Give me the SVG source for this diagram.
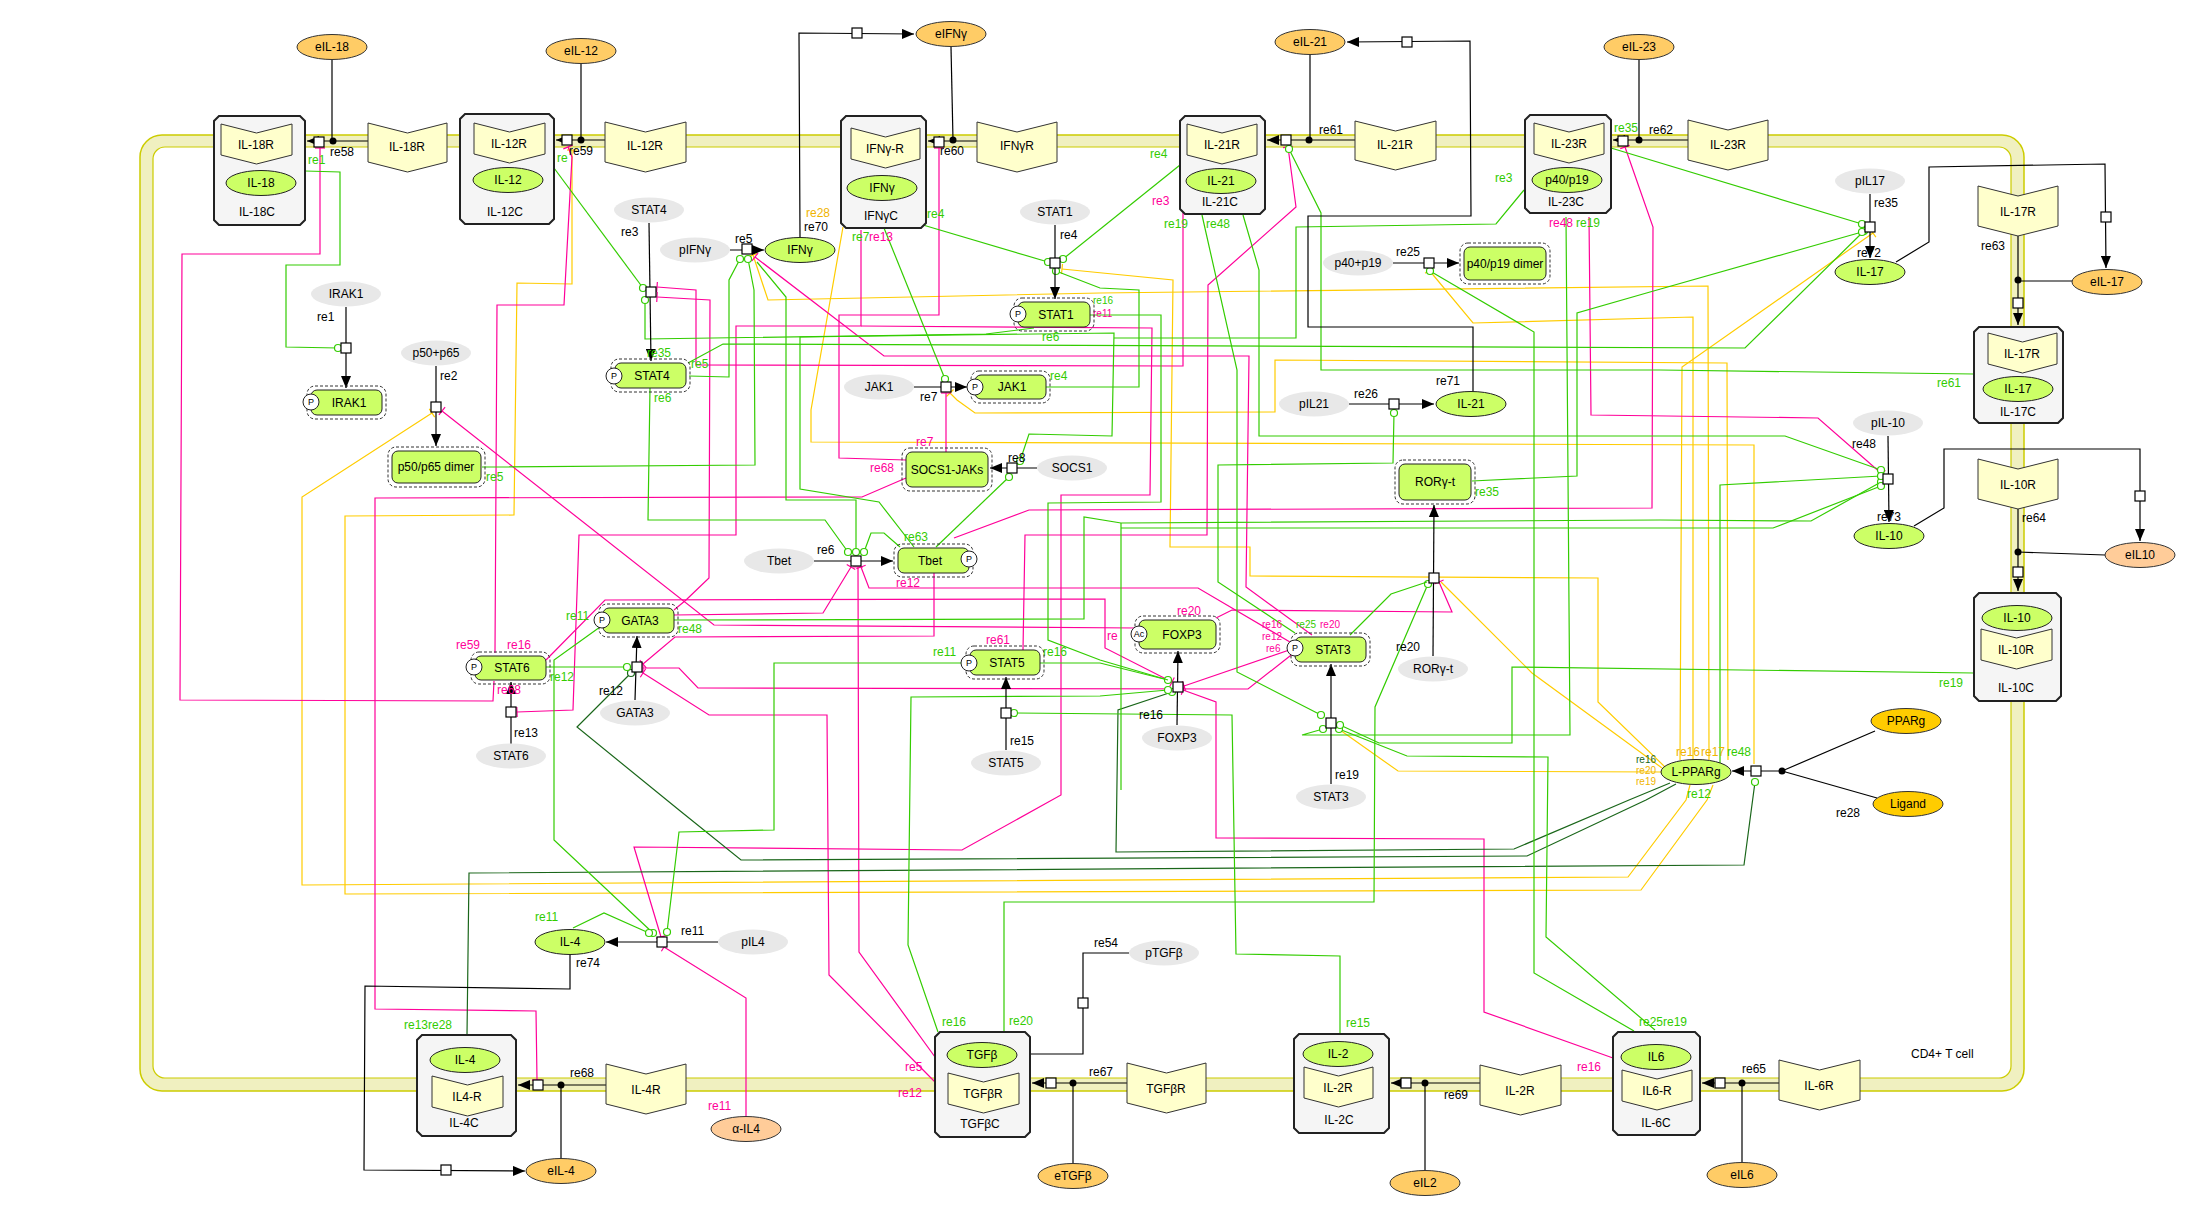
<svg xmlns="http://www.w3.org/2000/svg" width="2210" height="1210" viewBox="0 0 2210 1210">
<defs>
<style>
text{font-family:"Liberation Sans",Arial,sans-serif;font-size:12px;fill:#000}
.c{text-anchor:middle}
.lg{fill:#33cc00}.lp{fill:#ff0099}.ly{fill:#f0b400}.ldg{fill:#1a661a}
.k{stroke:#000;stroke-width:1.2;fill:none}
.g{stroke:#33cc00;stroke-width:1.2;fill:none}
.p{stroke:#ff0099;stroke-width:1.2;fill:none}
.y{stroke:#ffcc00;stroke-width:1.2;fill:none}
.dg{stroke:#1a661a;stroke-width:1.2;fill:none}
.sq{fill:#fff;stroke:#000;stroke-width:1.2}
.ext{fill:#ffcc66;stroke:#333;stroke-width:1}
.pe{fill:#ffcc99;stroke:#333;stroke-width:1}
.gold{fill:#ffcc00;stroke:#333;stroke-width:1}
.gr{fill:#e8e8e8}
.gn{fill:#ccff66;stroke:#222;stroke-width:1}
.rc{fill:#ffffcc;stroke:#333;stroke-width:1}
.cx{fill:#f5f5f5;stroke:#222;stroke-width:2}
.ap{fill:#ccff66;stroke:#222;stroke-width:1}
.dash{fill:none;stroke:#333;stroke-width:1;stroke-dasharray:3,2}
.pc{fill:#fff;stroke:#222;stroke-width:1}
.sm{font-size:9px}
.s10{font-size:10px}
</style>
<marker id="a" viewBox="0 0 12 10" refX="12" refY="5" markerWidth="12" markerHeight="10" markerUnits="userSpaceOnUse" orient="auto"><path d="M0,0 L12,5 L0,10 Z" fill="#000"/></marker>
<marker id="cg" viewBox="-5 -5 10 10" refX="0" refY="0" markerWidth="10" markerHeight="10" markerUnits="userSpaceOnUse"><circle r="3.5" fill="#fff" stroke="#33cc00" stroke-width="1.2"/></marker>
<marker id="cd" viewBox="-5 -5 10 10" refX="0" refY="0" markerWidth="10" markerHeight="10" markerUnits="userSpaceOnUse"><circle r="3.5" fill="#fff" stroke="#1a661a" stroke-width="1.2"/></marker>
<marker id="bp" viewBox="-2 -6 4 12" refX="0" refY="0" markerWidth="4" markerHeight="12" markerUnits="userSpaceOnUse" orient="auto"><line x1="0" y1="-5" x2="0" y2="5" stroke="#ff0099" stroke-width="1.2"/></marker>
<marker id="by" viewBox="-2 -6 4 12" refX="0" refY="0" markerWidth="4" markerHeight="12" markerUnits="userSpaceOnUse" orient="auto"><line x1="0" y1="-5" x2="0" y2="5" stroke="#ffcc00" stroke-width="1.2"/></marker>
</defs>
<rect width="2210" height="1210" fill="#fff"/>
<g id="membrane">
<rect x="140" y="135" width="1884" height="956" rx="22" fill="#f0f0c0" stroke="#cccc00" stroke-width="1.5"/>
<rect x="153" y="147" width="1858" height="931" rx="12" fill="#fff" stroke="#cccc00" stroke-width="1.2"/>
<text x="1911" y="1058">CD4+ T cell</text>
</g>
<g id="connectors">
<!-- yellow -->
<polyline class="y" points="1713,785 1707,800 1641,890 345,894 345,516 514,515 517,283 572,284 572,150" marker-end="url(#by)"/>
<polyline class="y" points="1690,785 1686,800 1628,877 302,885 302,497 432,413" marker-end="url(#by)"/>
<polyline class="y" points="1709,760 1708,286 1100,293 768,300 753,255" marker-end="url(#by)"/>
<polyline class="y" points="1754,764 1754,445 811,442 811,410 843,227"/>
<polyline class="y" points="1665,767 1598,702 1598,578 1250,576 1250,547 1170,547 1173,280 1062,269" marker-end="url(#by)"/>
<polyline class="y" points="1693,760 1693,317 1473,323 1429,270" marker-end="url(#by)"/>
<polyline class="y" points="1728,760 1727,363 1275,360 1275,412 975,413 957,400 950,393" marker-end="url(#by)"/>
<polyline class="y" points="1680,760 1682,367 1873,233" marker-end="url(#by)"/>
<polyline class="y" points="1662,768 1532,673 1441,582"/>
<polyline class="y" points="1662,772 1398,771 1340,730"/>
<!-- pink -->
<polyline class="p" points="494,681 493,701 180,700 182,254 320,254 320,148" marker-end="url(#bp)"/>
<polyline class="p" points="495,653 497,305 564,305 572,157 568,147" marker-end="url(#bp)"/>
<polyline class="p" points="906,478 862,497 375,498 375,1009 536,1011 537,1080" marker-end="url(#bp)"/>
<polyline class="p" points="1136,628 714,625 442,411" marker-end="url(#bp)"/>
<polyline class="p" points="546,660 605,600 1105,599 1105,648 1172,682" marker-end="url(#bp)"/>
<polyline class="p" points="1183,213 1183,366 696,365 696,290 657,287" marker-end="url(#bp)"/>
<polyline class="p" points="674,610 686,600 709,578 710,300 657,297" marker-end="url(#bp)"/>
<polyline class="p" points="1312,635 1246,587 1249,356 884,356 755,257" marker-end="url(#bp)"/>
<polyline class="p" points="861,230 861,326 736,326 736,535 579,535 573,710 517,712" marker-end="url(#bp)"/>
<polyline class="p" points="906,460 839,458 839,315 939,315 939,148" marker-end="url(#bp)"/>
<polyline class="p" points="946,452 946,393" marker-end="url(#bp)"/>
<polyline class="p" points="954,538 1029,510 1652,508 1653,227 1625,147" marker-end="url(#bp)"/>
<polyline class="p" points="934,573 934,636 675,637 643,664" marker-end="url(#bp)"/>
<polyline class="p" points="674,615 823,613 851,567" marker-end="url(#bp)"/>
<polyline class="p" points="1295,645 1198,588 869,588 861,567" marker-end="url(#bp)"/>
<polyline class="p" points="935,1057 859,952 858,567" marker-end="url(#bp)"/>
<polyline class="p" points="1295,652 1248,689 698,688 679,668 643,668" marker-end="url(#bp)"/>
<polyline class="p" points="935,1082 829,975 827,715 709,715 643,673" marker-end="url(#bp)"/>
<polyline class="p" points="861,326 1152,328 1150,495 1061,495 1061,795 962,850 634,847 661,937" marker-end="url(#bp)"/>
<polyline class="p" points="746,1116 746,998 664,947" marker-end="url(#bp)"/>
<polyline class="p" points="1023,650 1025,535 1207,535 1208,285 1296,207 1288,147" marker-end="url(#bp)"/>
<polyline class="p" points="1589,217 1591,415 1818,418 1882,474" marker-end="url(#bp)"/>
<polyline class="p" points="1613,1058 1484,1012 1484,839 1216,838 1216,702 1183,690" marker-end="url(#bp)"/>
<polyline class="p" points="1216,618 1232,610 1452,612 1439,582" marker-end="url(#bp)"/>
<polyline class="p" points="1295,648 1184,686" marker-end="url(#bp)"/>
<!-- dark green -->
<polyline class="dg" points="1676,784 1646,800 1527,856 741,860 679,810 577,727 631,673" marker-end="url(#cd)"/>
<polyline class="dg" points="467,1035 469,873 1744,865 1755,782" marker-end="url(#cg)"/>
<polyline class="dg" points="1670,783 1629,800 1514,849 1116,852 1118,710 1172,692" marker-end="url(#cg)"/>
<!-- green -->
<polyline class="g" points="305,171 340,172 340,265 286,265 286,347 338,348" marker-end="url(#cg)"/>
<polyline class="g" points="554,168 643,288" marker-end="url(#cg)"/>
<polyline class="g" points="1034,328 986,334 645,339 645,300" marker-end="url(#cg)"/>
<polyline class="g" points="689,376 729,377 729,280 740,259" marker-end="url(#cg)"/>
<polyline class="g" points="688,363 723,344 1745,348 1864,231" marker-end="url(#cg)"/>
<polyline class="g" points="482,467 755,465 754,290 748,259" marker-end="url(#cg)"/>
<polyline class="g" points="757,262 786,297 786,500 856,500 856,552" marker-end="url(#cg)"/>
<polyline class="g" points="914,547 879,502 800,489 800,337 1114,333 1112,436 1029,434 1020,461" marker-end="url(#cg)"/>
<polyline class="g" points="923,225 1048,262" marker-end="url(#cg)"/>
<polyline class="g" points="1180,165 1063,259" marker-end="url(#cg)"/>
<polyline class="g" points="1046,387 1139,387 1139,290 1100,288 1056,271" marker-end="url(#cg)"/>
<polyline class="g" points="884,228 945,379" marker-end="url(#cg)"/>
<polyline class="g" points="936,547 1009,477" marker-end="url(#cg)"/>
<polyline class="g" points="900,547 884,533 871,533 864,552" marker-end="url(#cg)"/>
<polyline class="g" points="650,388 648,520 825,520 848,552" marker-end="url(#cg)"/>
<polyline class="g" points="674,620 1084,619 1084,517 1121,523 1660,520 1811,521 1881,482" marker-end="url(#cg)"/>
<polyline class="g" points="1121,523 1121,790"/>
<polyline class="g" points="546,667 627,667" marker-end="url(#cg)"/>
<polyline class="g" points="600,627 554,660 554,840 653,933" marker-end="url(#cg)"/>
<polyline class="g" points="970,663 774,663 774,830 679,832 667,932" marker-end="url(#cg)"/>
<polyline class="g" points="573,928 604,913 649,933" marker-end="url(#cg)"/>
<polyline class="g" points="1040,663 1100,663 1168,680" marker-end="url(#cg)"/>
<polyline class="g" points="1340,1033 1340,956 1236,954 1232,715 1014,713" marker-end="url(#cg)"/>
<polyline class="g" points="938,1032 908,945 911,697 1100,696 1168,690" marker-end="url(#cg)"/>
<polyline class="g" points="1004,1032 1004,902 1374,902 1375,707 1428,584" marker-end="url(#cg)"/>
<polyline class="g" points="1350,635 1391,594 1427,582"/>
<polyline class="g" points="1295,633 1218,582 1218,465 1393,463 1394,413" marker-end="url(#cg)"/>
<polyline class="g" points="1202,215 1237,370 1237,672 1321,715" marker-end="url(#cg)"/>
<polyline class="g" points="1243,215 1259,270 1259,436 1785,436 1881,470" marker-end="url(#cg)"/>
<polyline class="g" points="1974,374 1660,370 1321,370 1321,213 1289,149" marker-end="url(#cg)"/>
<polyline class="g" points="1524,190 1496,224 1296,227 1296,338 1114,338"/>
<polyline class="g" points="1090,315 1161,315 1161,502 1048,503 1048,640 1100,660 1168,680"/>
<polyline class="g" points="1634,1031 1534,973 1534,332 1430,271" marker-end="url(#cg)"/>
<polyline class="g" points="1566,217 1570,735 1302,735 1323,729" marker-end="url(#cg)"/>
<polyline class="g" points="1655,1030 1546,937 1548,757 1407,756 1339,729" marker-end="url(#cg)"/>
<polyline class="g" points="1974,673 1512,667 1512,743 1379,743 1340,725" marker-end="url(#cg)"/>
<polyline class="g" points="1472,481 1577,476 1577,313 1650,292 1862,232" marker-end="url(#cg)"/>
<polyline class="g" points="1611,148 1862,224" marker-end="url(#cg)"/>
<polyline class="g" points="1720,765 1720,485 1881,476" marker-end="url(#cg)"/>
<polyline class="g" points="1121,528 1773,528 1881,486" marker-end="url(#cg)"/>
<!-- black reactions -->
<path class="k" d="M332,60 V141"/>
<path class="k" d="M368,141 H307" marker-end="url(#a)"/>
<path class="k" d="M581,64 V140"/>
<path class="k" d="M605,140 H556" marker-end="url(#a)"/>
<path class="k" d="M951,47 L953,140"/>
<path class="k" d="M977,141 H928" marker-end="url(#a)"/>
<path class="k" d="M1310,55 V140"/>
<path class="k" d="M1355,140 H1267" marker-end="url(#a)"/>
<path class="k" d="M1639,60 V140"/>
<path class="k" d="M1688,140 H1613" marker-end="url(#a)"/>
<path class="k" d="M2018,236 V325" marker-end="url(#a)"/>
<path class="k" d="M2072,281 H2018"/>
<path class="k" d="M2018,509 V591" marker-end="url(#a)"/>
<path class="k" d="M2105,555 L2018,552"/>
<path class="k" d="M1779,1083 H1702" marker-end="url(#a)"/>
<path class="k" d="M1742,1162 V1083"/>
<path class="k" d="M1480,1083 H1391" marker-end="url(#a)"/>
<path class="k" d="M1425,1170 V1083"/>
<path class="k" d="M1127,1083 H1032" marker-end="url(#a)"/>
<path class="k" d="M1073,1163 V1083"/>
<path class="k" d="M606,1085 H518" marker-end="url(#a)"/>
<path class="k" d="M561,1158 V1085"/>
<path class="k" d="M800,237 L799,33 L914,34" marker-end="url(#a)"/>
<path class="k" d="M1473,392 V327 H1308 V216 H1471 L1470,41 L1347,42" marker-end="url(#a)"/>
<path class="k" d="M1896,262 L1929,242 V167 L2105,164 L2106,268" marker-end="url(#a)"/>
<path class="k" d="M1914,526 L1944,508 V449 H2140 V541" marker-end="url(#a)"/>
<path class="k" d="M570,954 V989 L365,986 L364,1170 L525,1171" marker-end="url(#a)"/>
<path class="k" d="M1129,953 H1083 V1054 H1019" marker-end="url(#a)"/>
<path class="k" d="M346,307 V388" marker-end="url(#a)"/>
<path class="k" d="M436,366 V446" marker-end="url(#a)"/>
<path class="k" d="M649,223 L651,361" marker-end="url(#a)"/>
<path class="k" d="M1055,225 V299" marker-end="url(#a)"/>
<path class="k" d="M730,250 H764" marker-end="url(#a)"/>
<path class="k" d="M914,387 H967" marker-end="url(#a)"/>
<path class="k" d="M1037,468 H990" marker-end="url(#a)"/>
<path class="k" d="M814,561 H893" marker-end="url(#a)"/>
<path class="k" d="M635,700 L637,636" marker-end="url(#a)"/>
<path class="k" d="M511,744 V682" marker-end="url(#a)"/>
<path class="k" d="M1006,750 V677" marker-end="url(#a)"/>
<path class="k" d="M1177,725 L1178,651" marker-end="url(#a)"/>
<path class="k" d="M1331,784 V664" marker-end="url(#a)"/>
<path class="k" d="M1433,656 L1434,505" marker-end="url(#a)"/>
<path class="k" d="M1393,263 H1459" marker-end="url(#a)"/>
<path class="k" d="M1349,404 H1434" marker-end="url(#a)"/>
<path class="k" d="M1870,194 V258" marker-end="url(#a)"/>
<path class="k" d="M1888,436 L1889,522" marker-end="url(#a)"/>
<path class="k" d="M718,942 H606" marker-end="url(#a)"/>
<path class="k" d="M1875,731 L1782,771 M1877,798 L1782,771"/>
<path class="k" d="M1782,771 H1732" marker-end="url(#a)"/>
<!-- process nodes -->
<g class="sq">
<rect x="314" y="137" width="10" height="10"/><rect x="562" y="135" width="10" height="10"/>
<rect x="934" y="137" width="10" height="10"/><rect x="1281" y="135" width="10" height="10"/>
<rect x="1618" y="136" width="10" height="10"/><rect x="2013" y="298" width="10" height="10"/>
<rect x="2013" y="567" width="10" height="10"/><rect x="1715" y="1078" width="10" height="10"/>
<rect x="1401" y="1078" width="10" height="10"/><rect x="1046" y="1078" width="10" height="10"/>
<rect x="533" y="1080" width="10" height="10"/><rect x="852" y="28" width="10" height="10"/>
<rect x="1402" y="37" width="10" height="10"/><rect x="2101" y="212" width="10" height="10"/>
<rect x="2135" y="491" width="10" height="10"/><rect x="441" y="1165" width="10" height="10"/>
<rect x="1078" y="998" width="10" height="10"/><rect x="341" y="343" width="10" height="10"/>
<rect x="431" y="402" width="10" height="10"/><rect x="646" y="287" width="10" height="10"/>
<rect x="1050" y="258" width="10" height="10"/><rect x="742" y="244" width="10" height="10"/>
<rect x="941" y="382" width="10" height="10"/><rect x="1007" y="463" width="10" height="10"/>
<rect x="851" y="556" width="10" height="10"/><rect x="632" y="662" width="10" height="10"/>
<rect x="506" y="707" width="10" height="10"/><rect x="1001" y="708" width="10" height="10"/>
<rect x="1173" y="682" width="10" height="10"/><rect x="1326" y="718" width="10" height="10"/>
<rect x="1429" y="573" width="10" height="10"/><rect x="1424" y="258" width="10" height="10"/>
<rect x="1389" y="399" width="10" height="10"/><rect x="1865" y="222" width="10" height="10"/>
<rect x="1883" y="474" width="10" height="10"/><rect x="657" y="937" width="10" height="10"/>
<rect x="1751" y="766" width="10" height="10"/>
</g>
<g fill="#000">
<circle cx="333" cy="141" r="3.5"/><circle cx="581" cy="140" r="3.5"/><circle cx="953" cy="140" r="3.5"/>
<circle cx="1309" cy="140" r="3.5"/><circle cx="1639" cy="140" r="3.5"/><circle cx="2018" cy="280" r="3.5"/>
<circle cx="2018" cy="552" r="3.5"/><circle cx="1742" cy="1083" r="3.5"/><circle cx="1425" cy="1083" r="3.5"/>
<circle cx="1073" cy="1083" r="3.5"/><circle cx="561" cy="1085" r="3.5"/><circle cx="1782" cy="771" r="3.5"/>
</g>
<!-- reaction labels -->
<text x="330" y="156">re58</text><text x="569" y="155">re59</text><text x="940" y="155">re60</text>
<text x="1319" y="134">re61</text><text x="1649" y="134">re62</text><text x="1981" y="250">re63</text>
<text x="2022" y="522">re64</text><text x="1742" y="1073">re65</text><text x="1444" y="1099">re69</text>
<text x="1089" y="1076">re67</text><text x="570" y="1077">re68</text><text x="804" y="231">re70</text>
<text x="1436" y="385">re71</text><text x="1857" y="257">re72</text><text x="1877" y="521">re73</text>
<text x="576" y="967">re74</text><text x="1094" y="947">re54</text><text x="317" y="321">re1</text>
<text x="440" y="380">re2</text><text x="621" y="236">re3</text><text x="1060" y="239">re4</text>
<text x="735" y="243">re5</text><text x="817" y="554">re6</text><text x="920" y="401">re7</text>
<text x="1008" y="462">re8</text><text x="599" y="695">re12</text><text x="514" y="737">re13</text>
<text x="1010" y="745">re15</text><text x="1139" y="719">re16</text><text x="1335" y="779">re19</text>
<text x="1396" y="651">re20</text><text x="1396" y="256">re25</text><text x="1354" y="398">re26</text>
<text x="1874" y="207">re35</text><text x="1852" y="448">re48</text><text x="681" y="935">re11</text>
<text x="1836" y="817">re28</text>
<text class="ly" x="806" y="217">re28</text>
<text class="lg" x="308" y="164">re1</text><text class="lg" x="557" y="162">re</text>
<text class="lg" x="1150" y="158">re4</text><text class="lp" x="1152" y="205">re3</text>
<text class="lg" x="1164" y="228">re19</text><text class="lg" x="1206" y="228">re48</text>
<text class="lg" x="1495" y="182">re3</text><text class="lg" x="1614" y="132">re35</text>
<text class="lp" x="1549" y="227">re48</text><text class="lg" x="1576" y="227">re19</text>
<text class="lg" x="647" y="357">re35</text><text class="lg" x="691" y="368">re5</text>
<text class="lg" x="654" y="402">re6</text><text class="lg" x="1042" y="341">re6</text>
<text class="lg" x="1050" y="380">re4</text><text class="lg s10" x="1093" y="304">re16</text>
<text class="lp s10" x="1093" y="317">re11</text>
<text class="lg" x="1937" y="387">re61</text><text class="lg" x="1475" y="496">re35</text>
<text class="lg" x="1939" y="687">re19</text><text class="lg" x="486" y="481">re5</text>
<text class="lg" x="678" y="633">re48</text><text class="lg" x="566" y="620">re11</text>
<text class="lg" x="550" y="681">re12</text><text class="lg" x="933" y="656">re11</text>
<text class="lp" x="986" y="644">re61</text><text class="lg" x="1043" y="656">re16</text>
<text class="lp" x="896" y="587">re12</text><text class="lg" x="904" y="541">re63</text>
<text class="lp" x="870" y="472">re68</text><text class="lp" x="916" y="446">re7</text>
<text class="lp" x="456" y="649">re59</text><text class="lp" x="507" y="649">re16</text>
<text class="lp" x="497" y="694">re68</text><text class="lp" x="1177" y="615">re20</text>
<text class="lp" x="1107" y="640">re</text>
<text class="lp s10" x="1262" y="628">re16</text><text class="lp s10" x="1262" y="640">re12</text><text class="lp s10" x="1266" y="652">re6</text>
<text class="lg s10" x="1296" y="628">re25</text><text class="lp s10" x="1320" y="628">re20</text>
<text class="lg" x="852" y="241">re7</text><text class="lp" x="869" y="241">re13</text>
<text class="lg" x="927" y="218">re4</text>
<text class="lg" x="404" y="1029">re13re28</text><text class="lg" x="535" y="921">re11</text>
<text class="lp" x="708" y="1110">re11</text><text class="lg" x="942" y="1026">re16</text>
<text class="lg" x="1009" y="1025">re20</text><text class="lp" x="905" y="1071">re5</text>
<text class="lp" x="898" y="1097">re12</text><text class="lg" x="1346" y="1027">re15</text>
<text class="lp" x="1577" y="1071">re16</text><text class="lg" x="1639" y="1026">re25re19</text>
<text class="ly" x="1676" y="756">re16</text><text class="ly" x="1701" y="756">re17</text>
<text class="lg" x="1727" y="756">re48</text>
<text class="ldg s10" x="1636" y="763">re16</text><text class="ly s10" x="1636" y="774">re20</text><text class="ly s10" x="1636" y="785">re19</text>
<text class="lg" x="1687" y="798">re12</text>
</g>
<g id="nodes">
<!-- external orange -->
<g id="eIL-18"><ellipse class="ext" cx="332" cy="47" rx="35" ry="12.5"/><text class="c" x="332" y="51">eIL-18</text></g>
<g id="eIL-12"><ellipse class="ext" cx="581" cy="51" rx="35" ry="12.5"/><text class="c" x="581" y="55">eIL-12</text></g>
<g id="eIFNg"><ellipse class="ext" cx="951" cy="34" rx="35" ry="12.5"/><text class="c" x="951" y="38">eIFNγ</text></g>
<g id="eIL-21"><ellipse class="ext" cx="1310" cy="42" rx="35" ry="12.5"/><text class="c" x="1310" y="46">eIL-21</text></g>
<g id="eIL-23"><ellipse class="ext" cx="1639" cy="47" rx="35" ry="12.5"/><text class="c" x="1639" y="51">eIL-23</text></g>
<g id="eIL-17"><ellipse class="ext" cx="2107" cy="282" rx="35" ry="12.5"/><text class="c" x="2107" y="286">eIL-17</text></g>
<g id="eIL10"><ellipse class="pe" cx="2140" cy="555" rx="35" ry="12.5"/><text class="c" x="2140" y="559">eIL10</text></g>
<g id="PPARg"><ellipse class="gold" cx="1906" cy="721" rx="35" ry="12.5"/><text class="c" x="1906" y="725">PPARg</text></g>
<g id="Ligand"><ellipse class="gold" cx="1908" cy="804" rx="35" ry="12.5"/><text class="c" x="1908" y="808">Ligand</text></g>
<g id="eIL-4"><ellipse class="ext" cx="561" cy="1171" rx="35" ry="12.5"/><text class="c" x="561" y="1175">eIL-4</text></g>
<g id="aIL4"><ellipse class="pe" cx="746" cy="1129" rx="35" ry="12.5"/><text class="c" x="746" y="1133">α-IL4</text></g>
<g id="eTGFb"><ellipse class="ext" cx="1073" cy="1176" rx="35" ry="12.5"/><text class="c" x="1073" y="1180">eTGFβ</text></g>
<g id="eIL2"><ellipse class="ext" cx="1425" cy="1183" rx="35" ry="12.5"/><text class="c" x="1425" y="1187">eIL2</text></g>
<g id="eIL6"><ellipse class="ext" cx="1742" cy="1175" rx="35" ry="12.5"/><text class="c" x="1742" y="1179">eIL6</text></g>
<!-- grey genes -->
<g id="gIRAK1"><ellipse class="gr" cx="346" cy="294" rx="35" ry="12.5"/><text class="c" x="346" y="298">IRAK1</text></g>
<g id="gp50p65"><ellipse class="gr" cx="436" cy="353" rx="35" ry="12.5"/><text class="c" x="436" y="357">p50+p65</text></g>
<g id="gSTAT4"><ellipse class="gr" cx="649" cy="210" rx="35" ry="12.5"/><text class="c" x="649" y="214">STAT4</text></g>
<g id="pIFNg"><ellipse class="gr" cx="695" cy="250" rx="35" ry="12.5"/><text class="c" x="695" y="254">pIFNγ</text></g>
<g id="gSTAT1"><ellipse class="gr" cx="1055" cy="212" rx="35" ry="12.5"/><text class="c" x="1055" y="216">STAT1</text></g>
<g id="gJAK1"><ellipse class="gr" cx="879" cy="387" rx="35" ry="12.5"/><text class="c" x="879" y="391">JAK1</text></g>
<g id="gSOCS1"><ellipse class="gr" cx="1072" cy="468" rx="35" ry="12.5"/><text class="c" x="1072" y="472">SOCS1</text></g>
<g id="gTbet"><ellipse class="gr" cx="779" cy="561" rx="35" ry="12.5"/><text class="c" x="779" y="565">Tbet</text></g>
<g id="gGATA3"><ellipse class="gr" cx="635" cy="713" rx="35" ry="12.5"/><text class="c" x="635" y="717">GATA3</text></g>
<g id="gSTAT6"><ellipse class="gr" cx="511" cy="756" rx="35" ry="12.5"/><text class="c" x="511" y="760">STAT6</text></g>
<g id="gSTAT5"><ellipse class="gr" cx="1006" cy="763" rx="35" ry="12.5"/><text class="c" x="1006" y="767">STAT5</text></g>
<g id="gFOXP3"><ellipse class="gr" cx="1177" cy="738" rx="35" ry="12.5"/><text class="c" x="1177" y="742">FOXP3</text></g>
<g id="gSTAT3"><ellipse class="gr" cx="1331" cy="797" rx="35" ry="12.5"/><text class="c" x="1331" y="801">STAT3</text></g>
<g id="gRORgt"><ellipse class="gr" cx="1433" cy="669" rx="35" ry="12.5"/><text class="c" x="1433" y="673">RORγ-t</text></g>
<g id="gp40p19"><ellipse class="gr" cx="1358" cy="263" rx="35" ry="12.5"/><text class="c" x="1358" y="267">p40+p19</text></g>
<g id="pIL21"><ellipse class="gr" cx="1314" cy="404" rx="35" ry="12.5"/><text class="c" x="1314" y="408">pIL21</text></g>
<g id="pIL17"><ellipse class="gr" cx="1870" cy="181" rx="35" ry="12.5"/><text class="c" x="1870" y="185">pIL17</text></g>
<g id="pIL-10"><ellipse class="gr" cx="1888" cy="423" rx="35" ry="12.5"/><text class="c" x="1888" y="427">pIL-10</text></g>
<g id="pIL4"><ellipse class="gr" cx="753" cy="942" rx="35" ry="12.5"/><text class="c" x="753" y="946">pIL4</text></g>
<g id="pTGFb"><ellipse class="gr" cx="1164" cy="953" rx="35" ry="12.5"/><text class="c" x="1164" y="957">pTGFβ</text></g>
<!-- cytoplasmic green ellipses -->
<g id="IFNg"><ellipse class="gn" cx="800" cy="250" rx="35" ry="12.5"/><text class="c" x="800" y="254">IFNγ</text></g>
<g id="IL-21"><ellipse class="gn" cx="1471" cy="404" rx="35" ry="12.5"/><text class="c" x="1471" y="408">IL-21</text></g>
<g id="IL-17"><ellipse class="gn" cx="1870" cy="272" rx="35" ry="12.5"/><text class="c" x="1870" y="276">IL-17</text></g>
<g id="IL-10"><ellipse class="gn" cx="1889" cy="536" rx="35" ry="12.5"/><text class="c" x="1889" y="540">IL-10</text></g>
<g id="L-PPARg"><ellipse class="gn" cx="1696" cy="772" rx="35" ry="12.5"/><text class="c" x="1696" y="776">L-PPARg</text></g>
<g id="IL-4"><ellipse class="gn" cx="570" cy="942" rx="35" ry="12.5"/><text class="c" x="570" y="946">IL-4</text></g>
<!-- membrane receptors -->
<g id="IL-18R"><polygon class="rc" points="368,123 407.5,133 447,123 447,162 407.5,172 368,162"/><text class="c" x="407" y="151">IL-18R</text></g>
<g id="IL-12R"><polygon class="rc" points="605,122 645.5,132 686,122 686,162 645.5,172 605,162"/><text class="c" x="645" y="150">IL-12R</text></g>
<g id="IFNgR"><polygon class="rc" points="977,122 1017,132 1057,122 1057,162 1017,172 977,162"/><text class="c" x="1017" y="150">IFNγR</text></g>
<g id="IL-21R"><polygon class="rc" points="1355,121 1395.5,131 1436,121 1436,160 1395.5,170 1355,160"/><text class="c" x="1395" y="149">IL-21R</text></g>
<g id="IL-23R"><polygon class="rc" points="1688,120 1728,130 1768,120 1768,160 1728,170 1688,160"/><text class="c" x="1728" y="149">IL-23R</text></g>
<g id="IL-17R"><polygon class="rc" points="1978,186 2018,196 2058,186 2058,226 2018,236 1978,226"/><text class="c" x="2018" y="216">IL-17R</text></g>
<g id="IL-10R"><polygon class="rc" points="1978,459 2018,469 2058,459 2058,499 2018,509 1978,499"/><text class="c" x="2018" y="489">IL-10R</text></g>
<g id="IL-4R"><polygon class="rc" points="606,1064 646,1074 686,1064 686,1104 646,1114 606,1104"/><text class="c" x="646" y="1094">IL-4R</text></g>
<g id="TGFbR"><polygon class="rc" points="1127,1063 1166.5,1073 1206,1063 1206,1103 1166.5,1113 1127,1103"/><text class="c" x="1166" y="1093">TGFβR</text></g>
<g id="IL-2R"><polygon class="rc" points="1480,1065 1520.5,1075 1561,1065 1561,1105 1520.5,1115 1480,1105"/><text class="c" x="1520" y="1095">IL-2R</text></g>
<g id="IL-6R"><polygon class="rc" points="1779,1060 1819.5,1070 1860,1060 1860,1100 1819.5,1110 1779,1100"/><text class="c" x="1819" y="1090">IL-6R</text></g>
<!-- complexes -->
<g id="IL-18C"><path class="cx" d="M219,116 H300 L305,121 V220 L300,225 H219 L214,220 V121 Z"/>
<polygon class="rc" points="221,124 256.5,133 292,124 292,155 256.5,164 221,155"/><text class="c" x="256" y="149">IL-18R</text>
<ellipse class="gn" cx="261" cy="183" rx="35" ry="12.5"/><text class="c" x="261" y="187">IL-18</text><text class="c" x="257" y="216">IL-18C</text></g>
<g id="IL-12C"><path class="cx" d="M465,114 H549 L554,119 V219 L549,224 H465 L460,219 V119 Z"/>
<polygon class="rc" points="474,123 509.5,132 545,123 545,154 509.5,163 474,154"/><text class="c" x="509" y="148">IL-12R</text>
<ellipse class="gn" cx="508" cy="180" rx="35" ry="12.5"/><text class="c" x="508" y="184">IL-12</text><text class="c" x="505" y="216">IL-12C</text></g>
<g id="IFNgC"><path class="cx" d="M846,116 H921 L926,121 V223 L921,228 H846 L841,223 V121 Z"/>
<polygon class="rc" points="851,128 885.5,137 920,128 920,159 885.5,168 851,159"/><text class="c" x="885" y="153">IFNγ-R</text>
<ellipse class="gn" cx="882" cy="188" rx="35" ry="12.5"/><text class="c" x="882" y="192">IFNγ</text><text class="c" x="881" y="220">IFNγC</text></g>
<g id="IL-21C"><path class="cx" d="M1185,116 H1260 L1265,121 V209 L1260,214 H1185 L1180,209 V121 Z"/>
<polygon class="rc" points="1187,124 1222,133 1257,124 1257,155 1222,164 1187,155"/><text class="c" x="1222" y="149">IL-21R</text>
<ellipse class="gn" cx="1221" cy="181" rx="35" ry="12.5"/><text class="c" x="1221" y="185">IL-21</text><text class="c" x="1220" y="206">IL-21C</text></g>
<g id="IL-23C"><path class="cx" d="M1530,115 H1606 L1611,120 V208 L1606,213 H1530 L1525,208 V120 Z"/>
<polygon class="rc" points="1534,123 1569,132 1604,123 1604,154 1569,163 1534,154"/><text class="c" x="1569" y="148">IL-23R</text>
<ellipse class="gn" cx="1567" cy="180" rx="35" ry="12.5"/><text class="c" x="1567" y="184">p40/p19</text><text class="c" x="1566" y="206">IL-23C</text></g>
<g id="IL-17C"><path class="cx" d="M1979,327 H2058 L2063,332 V418 L2058,423 H1979 L1974,418 V332 Z"/>
<polygon class="rc" points="1988,333 2022.5,342 2057,333 2057,364 2022.5,373 1988,364"/><text class="c" x="2022" y="358">IL-17R</text>
<ellipse class="gn" cx="2018" cy="389" rx="35" ry="12.5"/><text class="c" x="2018" y="393">IL-17</text><text class="c" x="2018" y="416">IL-17C</text></g>
<g id="IL-10C"><path class="cx" d="M1979,593 H2056 L2061,598 V696 L2056,701 H1979 L1974,696 V598 Z"/>
<ellipse class="gn" cx="2017" cy="618" rx="35" ry="12.5"/><text class="c" x="2017" y="622">IL-10</text>
<polygon class="rc" points="1981,629 2016.5,638 2052,629 2052,660 2016.5,669 1981,660"/><text class="c" x="2016" y="654">IL-10R</text>
<text class="c" x="2016" y="692">IL-10C</text></g>
<g id="IL-4C"><path class="cx" d="M422,1035 H511 L516,1040 V1131 L511,1136 H422 L417,1131 V1040 Z"/>
<ellipse class="gn" cx="465" cy="1060" rx="35" ry="12.5"/><text class="c" x="465" y="1064">IL-4</text>
<polygon class="rc" points="432,1076 467.5,1085 503,1076 503,1107 467.5,1116 432,1107"/><text class="c" x="467" y="1101">IL4-R</text>
<text class="c" x="464" y="1127">IL-4C</text></g>
<g id="TGFbC"><path class="cx" d="M940,1032 H1025 L1030,1037 V1132 L1025,1137 H940 L935,1132 V1037 Z"/>
<ellipse class="gn" cx="982" cy="1055" rx="35" ry="12.5"/><text class="c" x="982" y="1059">TGFβ</text>
<polygon class="rc" points="948,1073 983.5,1082 1019,1073 1019,1104 983.5,1113 948,1104"/><text class="c" x="983" y="1098">TGFβR</text>
<text class="c" x="980" y="1128">TGFβC</text></g>
<g id="IL-2C"><path class="cx" d="M1299,1034 H1384 L1389,1039 V1128 L1384,1133 H1299 L1294,1128 V1039 Z"/>
<ellipse class="gn" cx="1338" cy="1054" rx="35" ry="12.5"/><text class="c" x="1338" y="1058">IL-2</text>
<polygon class="rc" points="1304,1067 1338.5,1076 1373,1067 1373,1098 1338.5,1107 1304,1098"/><text class="c" x="1338" y="1092">IL-2R</text>
<text class="c" x="1339" y="1124">IL-2C</text></g>
<g id="IL-6C"><path class="cx" d="M1618,1032 H1695 L1700,1037 V1130 L1695,1135 H1618 L1613,1130 V1037 Z"/>
<ellipse class="gn" cx="1656" cy="1057" rx="35" ry="12.5"/><text class="c" x="1656" y="1061">IL6</text>
<polygon class="rc" points="1622,1070 1657,1079 1692,1070 1692,1101 1657,1110 1622,1101"/><text class="c" x="1657" y="1095">IL6-R</text>
<text class="c" x="1656" y="1127">IL-6C</text></g>
<!-- active proteins -->
<g id="IRAK1"><rect class="dash" x="307" y="386" width="79" height="33" rx="8"/><rect class="ap" x="311" y="390" width="71" height="25" rx="6"/><text class="c" x="349" y="407">IRAK1</text><circle class="pc" cx="311" cy="402" r="8"/><text class="c sm" x="311" y="405">P</text></g>
<g id="p50p65"><rect class="dash" x="388" y="447" width="97" height="40" rx="8"/><rect class="ap" x="392" y="451" width="89" height="32" rx="6"/><text class="c" x="436" y="471">p50/p65 dimer</text></g>
<g id="STAT4"><rect class="dash" x="611" y="359" width="79" height="33" rx="8"/><rect class="ap" x="615" y="363" width="71" height="25" rx="6"/><text class="c" x="652" y="380">STAT4</text><circle class="pc" cx="614" cy="376" r="8"/><text class="c sm" x="614" y="379">P</text></g>
<g id="STAT1"><rect class="dash" x="1014" y="298" width="80" height="33" rx="8"/><rect class="ap" x="1018" y="302" width="72" height="25" rx="6"/><text class="c" x="1056" y="319">STAT1</text><circle class="pc" cx="1018" cy="314" r="8"/><text class="c sm" x="1018" y="317">P</text></g>
<g id="JAK1"><rect class="dash" x="971" y="371" width="79" height="32" rx="8"/><rect class="ap" x="975" y="375" width="71" height="24" rx="6"/><text class="c" x="1012" y="391">JAK1</text><circle class="pc" cx="975" cy="387" r="8"/><text class="c sm" x="975" y="390">P</text></g>
<g id="SOCS1-JAKs"><rect class="dash" x="902" y="448" width="90" height="43" rx="8"/><rect class="ap" x="906" y="452" width="82" height="35" rx="6"/><text class="c" x="947" y="474">SOCS1-JAKs</text></g>
<g id="Tbet"><rect class="dash" x="894" y="544" width="79" height="33" rx="8"/><rect class="ap" x="898" y="548" width="71" height="25" rx="6"/><text class="c" x="930" y="565">Tbet</text><circle class="pc" cx="969" cy="559" r="8"/><text class="c sm" x="969" y="562">P</text></g>
<g id="GATA3"><rect class="dash" x="599" y="604" width="79" height="33" rx="8"/><rect class="ap" x="603" y="608" width="71" height="25" rx="6"/><text class="c" x="640" y="625">GATA3</text><circle class="pc" cx="602" cy="620" r="8"/><text class="c sm" x="602" y="623">P</text></g>
<g id="STAT6"><rect class="dash" x="471" y="652" width="79" height="32" rx="8"/><rect class="ap" x="475" y="656" width="71" height="24" rx="6"/><text class="c" x="512" y="672">STAT6</text><circle class="pc" cx="474" cy="667" r="8"/><text class="c sm" x="474" y="670">P</text></g>
<g id="STAT5"><rect class="dash" x="966" y="646" width="78" height="33" rx="8"/><rect class="ap" x="970" y="650" width="70" height="25" rx="6"/><text class="c" x="1007" y="667">STAT5</text><circle class="pc" cx="969" cy="663" r="8"/><text class="c sm" x="969" y="666">P</text></g>
<g id="FOXP3"><rect class="dash" x="1135" y="616" width="85" height="37" rx="8"/><rect class="ap" x="1139" y="620" width="77" height="29" rx="6"/><text class="c" x="1182" y="639">FOXP3</text><circle class="pc" cx="1139" cy="634" r="8"/><text class="c sm" x="1139" y="637">Ac</text></g>
<g id="STAT3"><rect class="dash" x="1291" y="633" width="79" height="33" rx="8"/><rect class="ap" x="1295" y="637" width="71" height="25" rx="6"/><text class="c" x="1333" y="654">STAT3</text><circle class="pc" cx="1295" cy="648" r="8"/><text class="c sm" x="1295" y="651">P</text></g>
<g id="RORgt"><rect class="dash" x="1395" y="460" width="80" height="44" rx="8"/><rect class="ap" x="1399" y="464" width="72" height="36" rx="6"/><text class="c" x="1435" y="486">RORγ-t</text></g>
<g id="p40p19dimer"><rect class="dash" x="1460" y="243" width="90" height="41" rx="8"/><rect class="ap" x="1464" y="247" width="82" height="33" rx="6"/><text class="c" x="1505" y="268">p40/p19 dimer</text></g>
</g>
</svg>
